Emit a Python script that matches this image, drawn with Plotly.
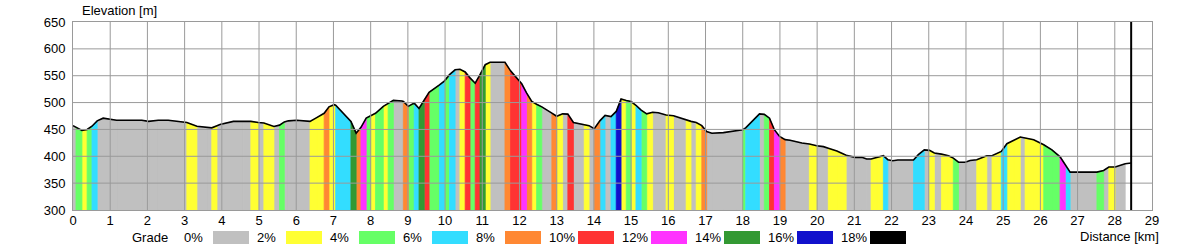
import plotly.graph_objects as go

# ---- profile data (distance km, elevation m) and grade class of each interval ----
dist_km = [
    0.00, 0.08, 0.24, 0.38, 0.51, 0.65, 0.81, 1.17, 1.49, 1.85,
    2.03, 2.29, 2.56, 2.83, 3.06, 3.33, 3.64, 3.73, 3.87, 3.95,
    4.31, 4.58, 4.78, 4.98, 5.13, 5.40, 5.55, 5.68, 5.79, 6.01,
    6.19, 6.37, 6.55, 6.75, 6.88, 7.02, 7.06, 7.47, 7.61, 7.74,
    7.88, 8.00, 8.13, 8.34, 8.47, 8.61, 8.84, 8.88, 9.01, 9.17,
    9.30, 9.44, 9.57, 9.85, 9.98, 10.12, 10.27, 10.40, 10.54, 10.67,
    10.81, 10.94, 11.08, 11.21, 11.61, 11.76, 12.06, 12.19, 12.33, 12.46,
    12.60, 12.87, 13.00, 13.16, 13.30, 13.45, 13.74, 13.87, 14.01, 14.16,
    14.30, 14.46, 14.60, 14.73, 14.87, 15.00, 15.13, 15.27, 15.42, 15.58,
    15.73, 15.94, 16.14, 16.48, 16.61, 16.75, 16.90, 17.03, 17.17, 17.48,
    17.84, 18.00, 18.08, 18.45, 18.58, 18.72, 18.85, 18.99, 19.14, 19.27,
    19.59, 19.79, 19.99, 20.17, 20.30, 20.53, 20.78, 21.02, 21.20, 21.33,
    21.45, 21.60, 21.78, 21.90, 22.03, 22.17, 22.59, 22.72, 22.88, 23.02,
    23.15, 23.34, 23.53, 23.66, 23.80, 23.98, 24.11, 24.29, 24.56, 24.70,
    24.95, 25.10, 25.28, 25.46, 25.59, 25.82, 26.09, 26.31, 26.53, 26.67,
    26.80, 27.52, 27.70, 27.84, 28.01, 28.28, 28.44,
]
elev_m = [
    457, 454, 448, 450, 456, 466, 471, 467, 467, 467,
    465, 467, 467, 465, 463, 456, 452.6, 453, 457, 459,
    465, 465, 465, 463, 462, 455.6, 458, 464, 466, 467,
    466, 465, 472, 480, 492, 496, 495, 465, 443, 454,
    471, 476, 480, 493, 498, 504, 503, 502, 493, 499,
    489, 505, 519, 533, 540, 552, 561, 562, 557, 546,
    536, 552, 570.5, 575, 575, 559, 535, 518, 502, 497,
    492, 480.5, 474.5, 479, 478.5, 463, 459, 457, 451.3, 466,
    476, 474, 483.5, 506.6, 504, 502, 495, 486, 479, 482,
    481, 477, 475.5, 467, 465, 463, 457, 446, 443, 444,
    447.5, 449.5, 453, 479, 478, 471, 449.5, 437, 431, 430,
    424.6, 423, 419.6, 418, 415, 410, 402, 398, 398, 395,
    395, 398, 401, 393.6, 391.7, 393, 393, 403, 412, 411,
    406, 404, 401, 396.7, 389, 389, 392, 393.6, 401, 401,
    409, 423.4, 429.6, 435.8, 434, 430.8, 421.5, 412, 399, 384,
    370.6, 370.6, 373.7, 380, 380, 386, 387.4,
]
# grade class of interval i (between dist_km[i] and dist_km[i+1]); 0 = 0%, 1 = 2%, ... 9 = 18%
seg_grade = [
    0, 2, 1, 2, 3, 0, 0, 0, 0, 0,
    0, 0, 0, 0, 1, 0, 0, 1, 0, 0,
    0, 0, 1, 0, 1, 0, 2, 0, 0, 0,
    0, 1, 1, 4, 1, 1, 3, 7, 4, 6,
    2, 1, 2, 1, 2, 0, 0, 4, 2, 3,
    7, 5, 2, 3, 2, 3, 0, 1, 5, 2,
    5, 7, 1, 0, 4, 5, 6, 4, 1, 2,
    0, 4, 1, 0, 5, 0, 1, 0, 4, 3,
    0, 3, 8, 1, 2, 1, 3, 2, 1, 0,
    0, 1, 0, 1, 0, 1, 4, 0, 0, 0,
    0, 2, 3, 0, 2, 5, 6, 4, 0, 0,
    0, 1, 0, 0, 1, 1, 0, 0, 0, 0,
    1, 1, 3, 0, 0, 0, 3, 3, 0, 1,
    0, 1, 1, 2, 0, 0, 0, 1, 0, 1,
    3, 1, 1, 0, 1, 1, 2, 2, 6, 3,
    0, 2, 0, 1, 0,
]

grade_labels = ["0%", "2%", "4%", "6%", "8%", "10%", "12%", "14%", "16%", "18%"]
grade_colors = ["#C0C0C0", "#FFFF33", "#66FF66", "#33DDFF", "#FF8833",
                "#FF3333", "#FF33FF", "#339933", "#1111CC", "#000000"]

x_ticks = list(range(0, 30))
y_ticks = [300, 350, 400, 450, 500, 550, 600, 650]

FONT = "Liberation Sans, Arial, sans-serif"
GRID = "#9A9A9A"

fig = go.Figure()
base = y_ticks[0]

# coloured grade bands
for cls, col in enumerate(grade_colors):
    xs, ys = [], []
    for i, g in enumerate(seg_grade):
        if g != cls:
            continue
        d0, d1 = dist_km[i], dist_km[i + 1]
        e0, e1 = elev_m[i], elev_m[i + 1]
        xs += [d0, d0, d1, d1, d0, None]
        ys += [base, e0, e1, base, base, None]
    if xs:
        fig.add_trace(go.Scatter(x=xs, y=ys, mode="lines", fill="toself",
                                 fillcolor=col, line=dict(color=col, width=0.8),
                                 hoverinfo="skip", showlegend=False))

# profile outline
fig.add_trace(go.Scatter(x=dist_km, y=elev_m, mode="lines",
                         line=dict(color="black", width=1.6),
                         hoverinfo="skip", showlegend=False))

shapes = []
# grid drawn above the fills
for xv in x_ticks[1:-1]:
    shapes.append(dict(type="line", xref="x", yref="y", x0=xv, x1=xv,
                       y0=y_ticks[0], y1=y_ticks[-1], layer="above",
                       line=dict(color=GRID, width=1)))
for yv in y_ticks[1:-1]:
    shapes.append(dict(type="line", xref="x", yref="y", x0=x_ticks[0], x1=x_ticks[-1],
                       y0=yv, y1=yv, layer="above",
                       line=dict(color=GRID, width=1)))
# end-of-route marker
shapes.append(dict(type="line", xref="x", yref="y", x0=dist_km[-1], x1=dist_km[-1],
                   y0=y_ticks[0], y1=y_ticks[-1], layer="above",
                   line=dict(color="black", width=2)))

# legend (Grade) drawn with annotations and swatches in pixel-based paper coords
PL, PR, PT, PB = 73, 1152, 22, 210
def px(x):
    return (x - PL) / (PR - PL)
def py(y):
    return (PB - y) / (PB - PT)

annotations = [
    dict(text="Elevation [m]", x=px(80), y=py(11), xref="paper", yref="paper",
         xanchor="left", yanchor="middle", showarrow=False,
         font=dict(family=FONT, size=13, color="black")),
    dict(text="Distance [km]", x=px(1161), y=py(236), xref="paper", yref="paper",
         xanchor="right", yanchor="middle", showarrow=False,
         font=dict(family=FONT, size=13, color="black")),
    dict(text="Grade", x=px(130), y=py(237), xref="paper", yref="paper",
         xanchor="left", yanchor="middle", showarrow=False,
         font=dict(family=FONT, size=13, color="black")),
]
for i, (lab, col) in enumerate(zip(grade_labels, grade_colors)):
    sx = 213 + 73 * i
    annotations.append(dict(text=lab, x=px(sx - 30), y=py(237), xref="paper", yref="paper",
                            xanchor="left", yanchor="middle", showarrow=False,
                            borderpad=0,
                            font=dict(family=FONT, size=13, color="black")))
    shapes.append(dict(type="rect", xref="paper", yref="paper",
                       x0=px(sx), x1=px(sx + 36), y0=py(244), y1=py(231),
                       fillcolor=col, line=dict(width=0), layer="above"))

fig.update_layout(
    width=1200, height=250,
    margin=dict(l=PL, r=1200 - PR, t=PT, b=250 - PB),
    paper_bgcolor="white", plot_bgcolor="white",
    shapes=shapes, annotations=annotations,
    font=dict(family=FONT, size=13, color="black"),
    xaxis=dict(range=[x_ticks[0], x_ticks[-1]], tickvals=x_ticks, showgrid=False,
               zeroline=False, showline=True, mirror=True, linecolor=GRID, linewidth=1,
               ticks="", ticklabelstandoff=-2,
               tickfont=dict(family=FONT, size=13, color="black")),
    yaxis=dict(range=[y_ticks[0], y_ticks[-1]], tickvals=y_ticks, showgrid=False,
               zeroline=False, showline=True, mirror=True, linecolor=GRID, linewidth=1,
               ticks="outside", ticklen=4, tickcolor="rgba(0,0,0,0)",
               tickfont=dict(family=FONT, size=13, color="black")),
)

fig.write_html("out.html")
